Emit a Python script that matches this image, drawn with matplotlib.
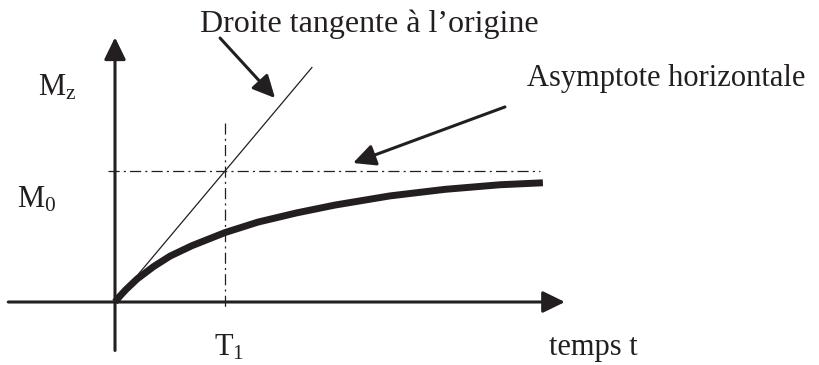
import matplotlib.pyplot as plt

plt.rcParams['font.family'] = ['Liberation Serif', 'DejaVu Serif']
plt.rcParams['mathtext.fontset'] = 'custom'
plt.rcParams['mathtext.rm'] = 'Liberation Serif'
plt.rcParams['lines.scale_dashes'] = False

INK = '#231f20'

# curve (t in units of T1, M in units of M0)
t_curve = [0, 0.05, 0.10, 0.20, 0.35, 0.50, 0.70, 1.00, 1.30, 1.65, 2.00, 2.50, 3.00, 3.50, 3.89]
m_curve = [0, 0.05, 0.095, 0.175, 0.27, 0.35, 0.43, 0.53, 0.61, 0.68, 0.74, 0.81, 0.86, 0.895, 0.91]

T1 = 1.0
M0 = 1.0
tangent_end = 1.79

fig = plt.figure(figsize=(8.2, 3.65), dpi=100)
ax = fig.add_axes([0, 0, 1, 1])
ax.set_xlim(-115 / 110, 705 / 110)
ax.set_ylim(-63 / 131, 302 / 131)
ax.axis('off')

arrow = dict(arrowstyle='-|>,head_length=0.45,head_width=0.22', mutation_scale=30,
             color=INK, lw=2.2, shrinkA=0, shrinkB=0)

# axes
ax.annotate('', xy=(0, 2.02), xytext=(0, -0.37), arrowprops=arrow)
ax.annotate('', xy=(4.09, 0), xytext=(-0.97, 0), arrowprops=arrow)

# dash-dot guides
dd = (0, (8, 3, 1.5, 3))
ax.plot([-0.065, 3.86], [M0, M0], color=INK, lw=0.9, linestyle=dd)
ax.plot([T1, T1], [1.37, -0.05], color=INK, lw=0.9, linestyle=dd)

# tangent at origin
ax.plot([0, tangent_end], [0, tangent_end * M0 / T1], color=INK, lw=0.9)

# response curve
ax.plot(t_curve, m_curve, color=INK, lw=5, solid_capstyle='butt', solid_joinstyle='round')

# annotations
fs = 22
ax.annotate('', xy=(1.455, 1.557), xytext=(0.955, 2.015), arrowprops=arrow)
ax.text(0.77, 2.061, "Droite tangente à l’origine", fontsize=23, color=INK, va='baseline')
ax.annotate('', xy=(2.164, 1.061), xytext=(3.545, 1.489), arrowprops=arrow)
ax.text(3.745, 1.649, 'Asymptote horizontale', fontsize=fs, color=INK, va='baseline')

ax.text(-0.70, 1.58, r'$\mathrm{M_z}$', fontsize=fs, color=INK, va='baseline')
ax.text(-0.89, 0.725, r'$\mathrm{M_0}$', fontsize=fs, color=INK, va='baseline')
ax.text(0.90, -0.405, r'$\mathrm{T_1}$', fontsize=fs, color=INK, va='baseline')
ax.text(3.945, -0.405, 'temps t', fontsize=fs, color=INK, va='baseline')

fig.savefig('out.png', dpi=100)
